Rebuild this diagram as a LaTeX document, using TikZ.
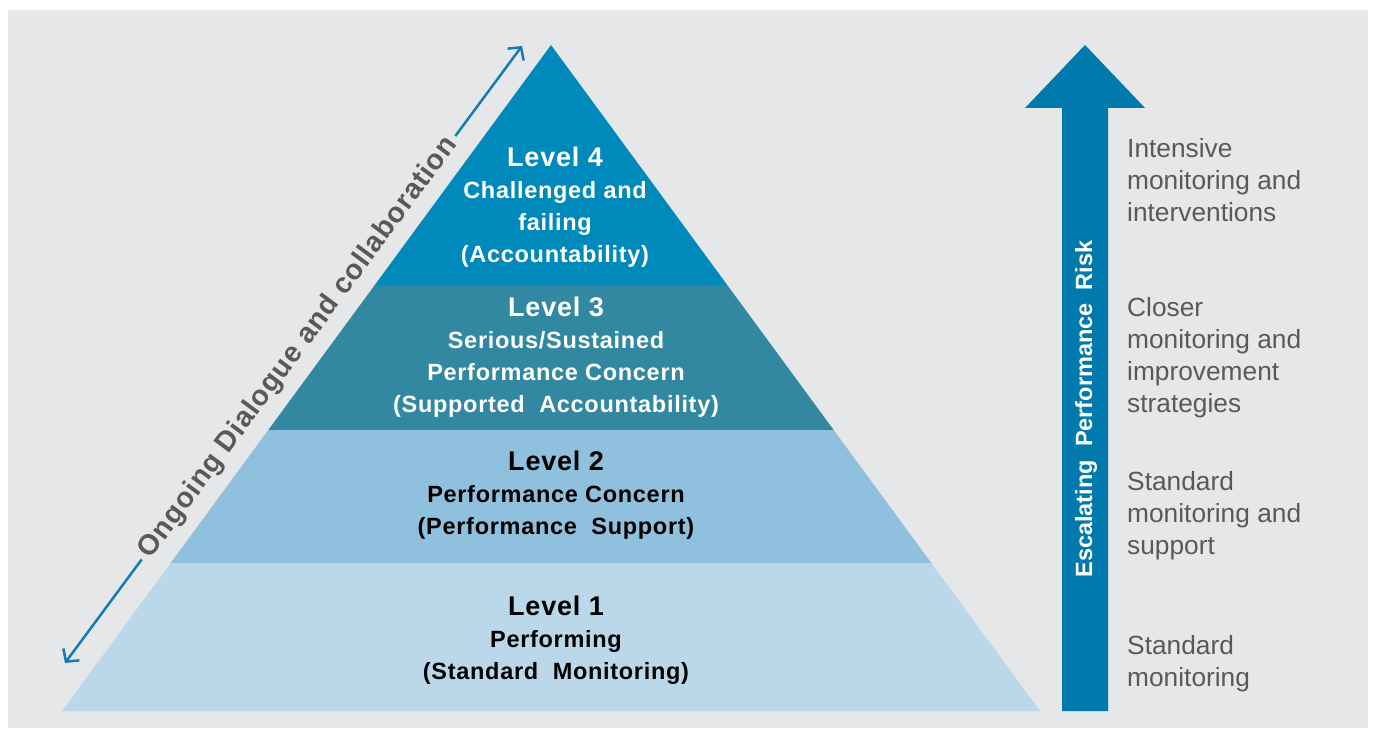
\documentclass[tikz,border=0pt]{standalone}
\usepackage{fontspec}
\setmainfont{Liberation Sans}
\newfontfamily\pyrfont[LetterSpace=3]{Liberation Sans}
\usetikzlibrary{calc,arrows.meta}
\definecolor{bggray}{HTML}{E6E7E9}
\definecolor{lvfour}{HTML}{008ABB}
\definecolor{lvthree}{HTML}{3288A1}
\definecolor{lvtwo}{HTML}{8FC0DD}
\definecolor{lvone}{HTML}{BAD8EA}
\definecolor{riskblue}{HTML}{0079AC}
\definecolor{dlgblue}{HTML}{157CB3}
\definecolor{txtgray}{HTML}{58595B}
\tikzset{
  lvltext/.style={font=\pyrfont\bfseries\fontsize{23.5}{32}\selectfont,align=center,inner sep=0pt},
  sidetext/.style={font=\fontsize{26.3}{32}\selectfont,text=txtgray,align=left,anchor=west,inner sep=0pt},
  dlgtext/.style={font=\pyrfont\bfseries\fontsize{28.5}{30}\selectfont,text=txtgray,inner xsep=5pt,inner ysep=0pt},
  dlgarrow/.style={draw=dlgblue,line width=2.5pt,-{Straight Barb[length=9pt,width=20pt]}}
}
\newcommand{\lvl}[1]{{\fontsize{27}{32}\selectfont #1}}

\begin{document}
\begin{tikzpicture}[x=1pt,y=-1pt]
  \fill[white] (0,0) rectangle (1374,735);
  \fill[bggray] (8,10) rectangle (1368,728);
  \coordinate (apex) at (551,45);
  \coordinate (bl) at (62,711);
  \coordinate (br) at (1040,711);
  \coordinate (la) at ($(apex)!0.3604!(bl)$);
  \coordinate (ra) at ($(apex)!0.3604!(br)$);
  \coordinate (lb) at ($(apex)!0.5781!(bl)$);
  \coordinate (rb) at ($(apex)!0.5781!(br)$);
  \coordinate (lc) at ($(apex)!0.7778!(bl)$);
  \coordinate (rc) at ($(apex)!0.7778!(br)$);
  \fill[lvfour] (apex) -- (ra) -- (la) -- cycle;
  \fill[lvthree] (la) -- (ra) -- (rb) -- (lb) -- cycle;
  \fill[lvtwo] (lb) -- (rb) -- (rc) -- (lc) -- cycle;
  \fill[lvone] (lc) -- (rc) -- (br) -- (bl) -- cycle;
  \node[lvltext,text=white] (lfour) at (555,207) {\lvl{Level 4}\\Challenged and\\failing\\(Accountability)};
  \node[lvltext,text=white] (lthree) at (556,357) {\lvl{Level 3}\\Serious/Sustained\\Performance Concern\\(Supported\ \ Accountability)};
  \node[lvltext,text=black] (ltwo) at (556,495) {\lvl{Level 2}\\Performance Concern\\(Performance\ \ Support)};
  \node[lvltext,text=black] (lone) at (556,640) {\lvl{Level 1}\\Performing\\(Standard\ \ Monitoring)};

  \fill[riskblue] (1062,711) -- (1062,108) -- (1025,108) -- (1085,45) -- (1145,108) -- (1108,108) -- (1108,711) -- cycle;
  \node[font=\bfseries\fontsize{23.5}{26}\selectfont,text=white,rotate=90,inner sep=0pt] (risk) at (1086,409) {Escalating\ \ Performance\ \ Risk};

  \node[sidetext] (sfour) at (1127,180) {Intensive\\monitoring and\\interventions};
  \node[sidetext] (sthree) at (1127,358) {Closer\\monitoring and\\improvement\\strategies};
  \node[sidetext] (stwo) at (1127,516) {Standard\\monitoring and\\support};
  \node[sidetext] (sone) at (1127,664) {Standard\\monitoring};

  \coordinate (dlo) at (65,663);
  \coordinate (dhi) at (522,46);
  \node[dlgtext,rotate=53.47] (dlg) at ($(dlo)!0.511!(dhi)$) {Ongoing Dialogue and collaboration};
  \draw[dlgarrow] (dlg.west) -- (dlo);
  \draw[dlgarrow] (dlg.east) -- (dhi);
\end{tikzpicture}
\end{document}
